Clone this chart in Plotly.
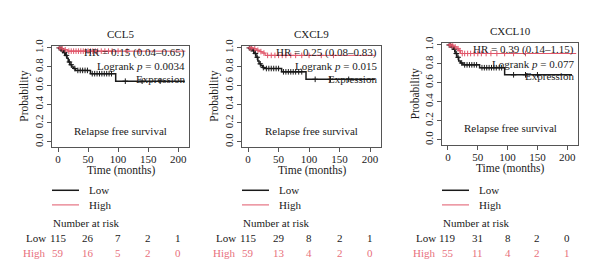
import numpy as np
import plotly.graph_objects as go

W, H = 600, 279

genes = ["CCL5", "CXCL9", "CXCL10"]
hr_text = ["HR = 0.15 (0.04–0.65)", "HR = 0.25 (0.08–0.83)", "HR = 0.39 (0.14–1.15)"]
logrank_p = ["0.0034", "0.015", "0.077"]

risk_times = [0, 50, 100, 150, 200]
risk_low = [[115, 26, 7, 2, 1], [115, 29, 8, 2, 1], [119, 31, 8, 2, 0]]
risk_high = [[59, 16, 5, 2, 0], [59, 13, 4, 2, 0], [55, 11, 4, 2, 1]]

# Kaplan-Meier step curves (time in months, survival probability)
low_t = [
    [0, 4, 6, 9, 12, 15, 17, 20, 23, 26, 29, 54, 96, 211],
    [0, 4, 7, 10, 13, 16, 18, 21, 24, 27, 55, 95, 208],
    [0, 5, 9, 12, 15, 18, 21, 25, 53, 95, 208],
]
low_s = [
    [1, 0.99, 0.97, 0.95, 0.92, 0.89, 0.85, 0.82, 0.795, 0.78, 0.76, 0.725, 0.645, 0.645],
    [1, 0.99, 0.97, 0.94, 0.90, 0.86, 0.83, 0.81, 0.79, 0.78, 0.745, 0.665, 0.665],
    [1, 0.98, 0.955, 0.91, 0.87, 0.83, 0.81, 0.79, 0.76, 0.685, 0.685],
]
high_t = [
    [0, 5, 10, 16, 212],
    [0, 8, 14, 19, 23, 28, 208],
    [0, 6, 10, 15, 18, 21, 215],
]
high_s = [
    [1, 0.99, 0.98, 0.965, 0.965],
    [1, 0.99, 0.975, 0.96, 0.945, 0.92, 0.92],
    [1, 0.99, 0.98, 0.96, 0.94, 0.91, 0.91],
]
# censoring times
low_c = [
    [2, 5, 8, 11, 14, 19, 22, 28, 33, 37, 41, 45, 49, 57, 61, 65, 69, 73, 77, 81, 85, 89, 112, 140, 170],
    [2, 5, 9, 12, 15, 20, 25, 30, 34, 38, 42, 46, 50, 58, 62, 66, 70, 74, 78, 83, 88, 110, 135, 165],
    [2, 4, 7, 11, 14, 17, 23, 28, 32, 36, 40, 44, 48, 57, 61, 65, 69, 73, 77, 81, 86, 90, 110, 130, 150],
]
high_c = [
    [3, 7, 12, 18, 22, 26, 30, 34, 38, 42, 46, 50, 54, 58, 62, 66, 72, 78, 84, 90, 100, 115, 135],
    [3, 6, 11, 16, 21, 26, 32, 38, 44, 50, 56, 62, 70, 78, 88, 100, 120, 140],
    [3, 5, 8, 12, 17, 20, 24, 28, 33, 38, 44, 50, 56, 64, 72, 82, 95, 110, 130],
]

BLACK = "#1a1a1a"
RED_LINE = "#e0566a"
RED_TEXT = "#e8707c"
AXIS = "#555555"
FONT = "Liberation Serif, Times New Roman, DejaVu Serif, serif"

# panel boxes in pixels (left, right, top, bottom)
boxes = [(52, 189, 40, 144), (242, 381, 40, 144), (442, 578, 37, 142)]


def px(x):
    return x / W


def py(y):
    return 1 - y / H


def step_at(ts, ss, c):
    ts = np.asarray(ts)
    ss = np.asarray(ss)
    idx = np.searchsorted(ts, c, side="right") - 1
    return ss[idx]


fig = go.Figure()
layout = dict(
    width=W, height=H, margin=dict(l=0, r=0, t=0, b=0),
    paper_bgcolor="white", plot_bgcolor="white", showlegend=False,
    font=dict(family=FONT, size=10.5, color=BLACK),
)
annotations = []
shapes = []

for i in range(3):
    L, R, T, B = boxes[i]
    sfx = "" if i == 0 else str(i + 1)
    xa, ya = "x" + sfx, "y" + sfx
    axis_common = dict(showline=True, mirror=True, linecolor=AXIS, linewidth=1,
                       ticks="outside", ticklen=4, tickcolor=AXIS, showgrid=False,
                       zeroline=False, tickfont=dict(family=FONT, size=11, color=BLACK))
    layout["xaxis" + sfx] = dict(domain=[px(L), px(R)], range=[-10, 218], anchor=ya,
                                 tickvals=[0, 50, 100, 150, 200], ticklabelstandoff=-3,
                                 **axis_common)
    layout["yaxis" + sfx] = dict(domain=[py(B), py(T)], range=[-0.06, 1.02], anchor=xa,
                                 tickvals=[0, 0.2, 0.4, 0.6, 0.8, 1.0],
                                 ticktext=["0.0", "0.2", "0.4", "0.6", "0.8", "1.0"],
                                 tickangle=-90, **axis_common)

    # curves
    fig.add_trace(go.Scatter(x=low_t[i], y=low_s[i], mode="lines", line_shape="hv",
                             line=dict(color=BLACK, width=1.5), xaxis=xa, yaxis=ya))
    fig.add_trace(go.Scatter(x=high_t[i], y=high_s[i], mode="lines", line_shape="hv",
                             line=dict(color=RED_LINE, width=1), xaxis=xa, yaxis=ya))
    fig.add_trace(go.Scatter(x=low_c[i], y=step_at(low_t[i], low_s[i], low_c[i]), mode="markers",
                             marker=dict(symbol="cross-thin", size=4, line=dict(width=1, color=BLACK)),
                             xaxis=xa, yaxis=ya))
    fig.add_trace(go.Scatter(x=high_c[i], y=step_at(high_t[i], high_s[i], high_c[i]), mode="markers",
                             marker=dict(symbol="cross-thin", size=4, line=dict(width=1, color=RED_LINE)),
                             xaxis=xa, yaxis=ya))

    xd = xa + " domain"
    # title
    annotations.append(dict(text=genes[i], xref=xd, x=0.5, yref="paper", y=py(T - 12),
                            xanchor="center", yanchor="middle", showarrow=False,
                            font=dict(size=11)))
    annotations.append(dict(text="Time (months)", xref=xd, x=0.5, yref="paper", y=py(B + 23.5),
                            xanchor="center", yanchor="middle", showarrow=False,
                            font=dict(size=11.5)))
    annotations.append(dict(text="Probability", xref="paper", x=px(L - 27), yref="paper",
                            y=py((T + B) / 2), xanchor="center", yanchor="middle",
                            textangle=-90, showarrow=False, font=dict(size=11.5)))
    # in-plot texts
    for txt, off in [(hr_text[i], 6.5), ("Logrank <i>p</i> = " + logrank_p[i], 21),
                     ("Expression", 33.5)]:
        annotations.append(dict(text=txt, xref=xd, x=1, xshift=-2, yref="paper", y=py(T + off),
                                xanchor="right", yanchor="middle", showarrow=False,
                                font=dict(size=11)))
    annotations.append(dict(text="Relapse free survival", xref=xd, x=0.5, yref="paper",
                            y=py(T + 87.5), xanchor="center", yanchor="middle",
                            showarrow=False, font=dict(size=11)))

    # legend
    for lab, col, yy in [("Low", BLACK, 188), ("High", RED_LINE, 203)]:
        shapes.append(dict(type="line", xref="paper", yref="paper", x0=px(L), x1=px(L + 27),
                           y0=py(yy), y1=py(yy), line=dict(color=col, width=1.5 if col == BLACK else 1)))
        annotations.append(dict(text=lab, xref="paper", x=px(L + 35), yref="paper", y=py(yy),
                                xanchor="left", yanchor="middle", showarrow=False,
                                font=dict(size=11, color=BLACK)))
    annotations.append(dict(text="Number at risk", xref="paper", x=px(L - 1), yref="paper",
                            y=py(222), xanchor="left", yanchor="middle", showarrow=False,
                            font=dict(size=11)))
    for lab, vals, col, yy in [("Low", risk_low[i], BLACK, 237), ("High", risk_high[i], RED_TEXT, 252)]:
        annotations.append(dict(text=lab, xref=xa, x=0, xshift=-10, yref="paper", y=py(yy),
                                xanchor="right", yanchor="middle", showarrow=False,
                                font=dict(size=11, color=col)))
        for t, v in zip(risk_times, vals):
            annotations.append(dict(text=str(v), xref=xa, x=t, yref="paper", y=py(yy),
                                    xanchor="center", yanchor="middle", showarrow=False,
                                    font=dict(size=11, color=col)))

layout["annotations"] = annotations
layout["shapes"] = shapes
fig.update_layout(**layout)
fig.write_html("out.html")
